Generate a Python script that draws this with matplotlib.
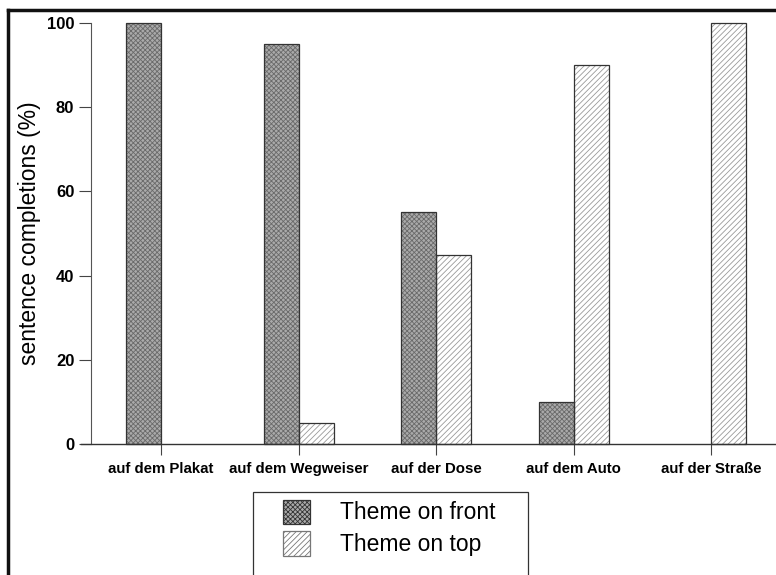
import matplotlib.pyplot as plt
import numpy as np
from matplotlib.lines import Line2D
from matplotlib.patches import Patch, Rectangle

plt.rcParams['font.family'] = ['Liberation Sans', 'DejaVu Sans']
plt.rcParams['hatch.linewidth'] = 0.6

categories = ["auf dem Plakat", "auf dem Wegweiser", "auf der Dose", "auf dem Auto", "auf der Straße"]
theme_front = [100, 95, 55, 10, 0]
theme_top = [0, 5, 45, 90, 100]
y_ticks = [0, 20, 40, 60, 80, 100]

x = np.arange(len(categories))
width = 0.255

fig = plt.figure(figsize=(7.76, 5.75), dpi=100)
ax = fig.add_axes([91 / 776, 131 / 575, 685 / 776, 421 / 575])

front_fc = '#aaaaaa'
top_fc = 'white'
edge = '#333333'

# fill with hatching, then outline separately so hatch colour differs from edge
ax.bar(x - width / 2, theme_front, width, color=front_fc, edgecolor='#6a6a6a',
       hatch='xxxxxxx', linewidth=0, clip_on=False)
ax.bar(x + width / 2, theme_top, width, color=top_fc, edgecolor='#999999',
       hatch='//////', linewidth=0, clip_on=False)
for vals, off in [(theme_front, -width / 2), (theme_top, width / 2)]:
    for xi, v in zip(x, vals):
        if v > 0:
            ax.bar(xi + off, v, width, fill=False, edgecolor=edge, linewidth=0.9, clip_on=False)

ax.set_xlim(-0.51, 4.47)
ax.set_ylim(0, 100)
ax.set_yticks(y_ticks)
ax.set_yticklabels([str(t) for t in y_ticks], fontsize=12, fontweight='bold')
ax.set_xticks(x)
ax.set_xticklabels(categories, fontsize=10.8, fontweight='bold')
ax.tick_params(axis='x', direction='out', length=8, width=0.8, pad=5, color='#444444')
ax.tick_params(axis='y', direction='out', length=9, width=0.8, pad=3, color='#444444')
ax.set_ylabel('sentence completions (%)', fontsize=16.5, labelpad=4)

for s in ['top', 'right']:
    ax.spines[s].set_visible(False)
ax.spines['left'].set_color('#555555')
ax.spines['left'].set_linewidth(0.8)
ax.spines['bottom'].set_color('#333333')
ax.spines['bottom'].set_linewidth(1.0)
ax.spines['bottom'].set_bounds(-0.58, 4.47)

handles = [
    Patch(facecolor=front_fc, edgecolor=edge, hatch='xxxxxxx', linewidth=0.9, label='Theme on front'),
    Patch(facecolor=top_fc, edgecolor='#777777', hatch='//////', linewidth=0.9, label='Theme on top'),
]
leg = fig.legend(handles=handles, loc='upper left', bbox_to_anchor=(278 / 776, 1 - 495 / 575),
                 fontsize=16.5, frameon=False,
                 handlelength=1.2, handleheight=1.25, handletextpad=1.3,
                 borderpad=0.2, borderaxespad=0, labelspacing=0.3)

# legend box runs off the bottom of the page
fig.add_artist(Rectangle((253 / 776, -0.05), (528 - 253) / 776, 0.05 + (575 - 492) / 575,
                         transform=fig.transFigure, fill=False, edgecolor='#333333', linewidth=0.9))

# page frame lines from the scan
fig.add_artist(Line2D([8 / 776, 8 / 776], [0, 1 - 10 / 575], color='#111111', linewidth=2.5))
fig.add_artist(Line2D([8 / 776, 1], [1 - 10 / 575, 1 - 10 / 575], color='#111111', linewidth=2.5))

plt.savefig("out.png", dpi=100)
